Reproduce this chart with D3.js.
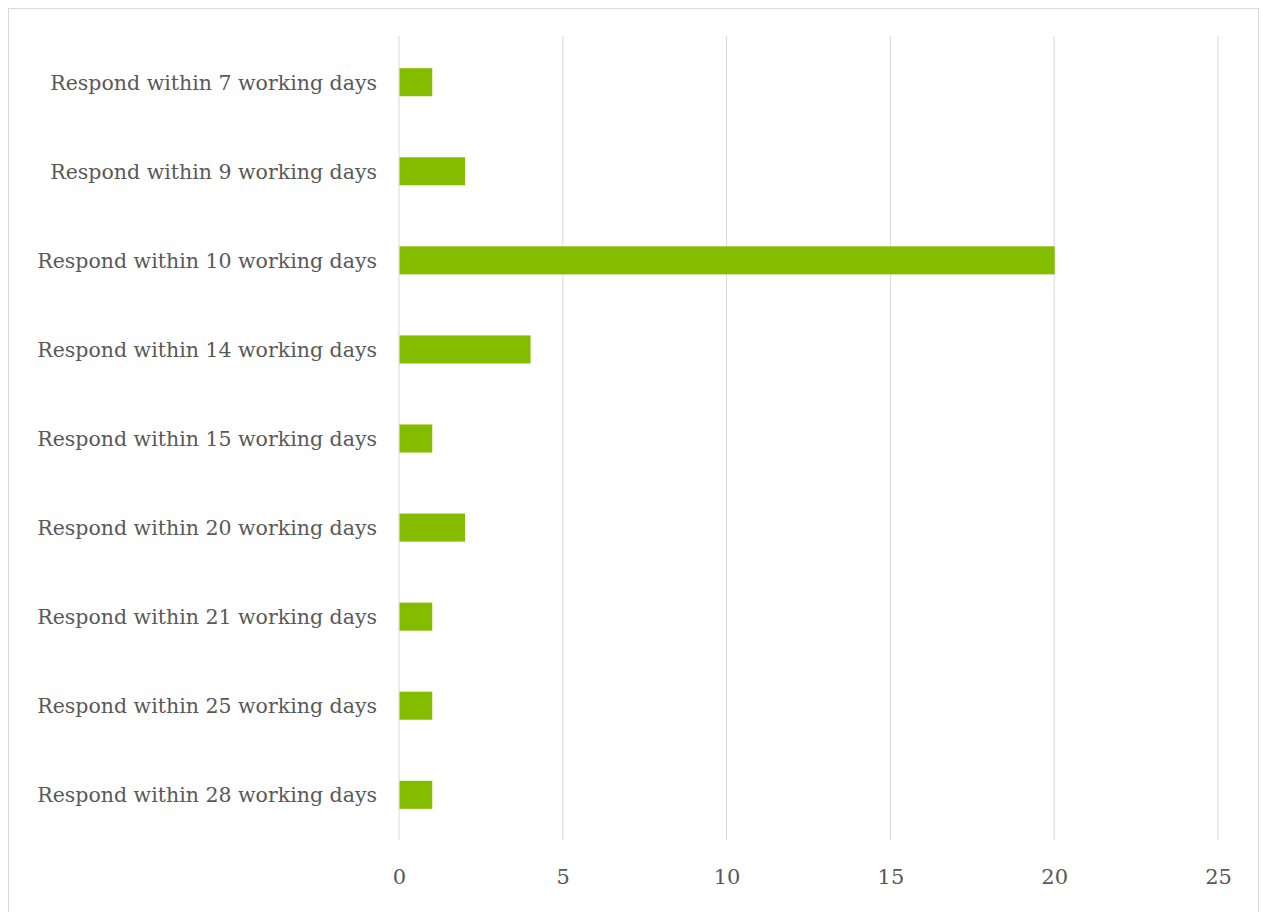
<!DOCTYPE html>
<html>
<head>
<meta charset="utf-8">
<script src="https://cdn.jsdelivr.net/npm/d3@7"></script>
<style>
  html, body { margin: 0; padding: 0; background: #fff; }
  svg { display: block; }
  .tick text { font-family: "DejaVu Serif", serif; fill: #595959; }
</style>
</head>
<body>
<svg id="chart" width="1263" height="912"></svg>
<script>
const categories = [
  "Respond within 7 working days",
  "Respond within 9 working days",
  "Respond within 10 working days",
  "Respond within 14 working days",
  "Respond within 15 working days",
  "Respond within 20 working days",
  "Respond within 21 working days",
  "Respond within 25 working days",
  "Respond within 28 working days",
];
const values = [1, 2, 20, 4, 1, 2, 1, 1, 1];
const xTicks = [0, 5, 10, 15, 20, 25];

const svg = d3.select("#chart");
const margin = { top: 36, left: 399, right: 45, bottom: 72 };
const width = 1263, height = 912;

// Chart border
svg.append("rect")
  .attr("x", 8.5)
  .attr("y", 8.5)
  .attr("width", 1250)
  .attr("height", 920)
  .attr("fill", "#fff")
  .attr("stroke", "#d9d9d9")
  .attr("stroke-width", 1);

const x = d3.scaleLinear()
  .domain([0, 25])
  .range([margin.left, width - margin.right]);

const y = d3.scaleBand()
  .domain(categories)
  .range([margin.top + 1, height - margin.bottom])
  .paddingInner(0.685)
  .paddingOuter(0.35);

// Gridlines
svg.append("g")
  .selectAll("line")
  .data(xTicks)
  .join("line")
  .attr("x1", (d) => x(d))
  .attr("x2", (d) => x(d))
  .attr("y1", margin.top)
  .attr("y2", height - margin.bottom)
  .attr("stroke", "#d9d9d9")
  .attr("stroke-width", 1);

// Bars
svg.append("g")
  .selectAll("rect")
  .data(values)
  .join("rect")
  .attr("x", x(0) + 0.5)
  .attr("y", (d, i) => y(categories[i]))
  .attr("width", (d) => x(d) - x(0))
  .attr("height", y.bandwidth())
  .attr("fill", "#84bd00");

// X axis labels
const xAxis = svg.append("g")
  .attr("transform", `translate(0,${height - margin.bottom})`)
  .call(d3.axisBottom(x).tickValues(xTicks).tickSize(0).tickPadding(29));
xAxis.select(".domain").remove();
xAxis.selectAll("text").attr("font-size", 21);

// Y axis labels
const yAxis = svg.append("g")
  .attr("transform", `translate(${margin.left - 22},1)`)
  .call(d3.axisLeft(y).tickSize(0).tickPadding(0));
yAxis.select(".domain").remove();
yAxis.selectAll("text").attr("font-size", 20.5);
</script>
</body>
</html>
